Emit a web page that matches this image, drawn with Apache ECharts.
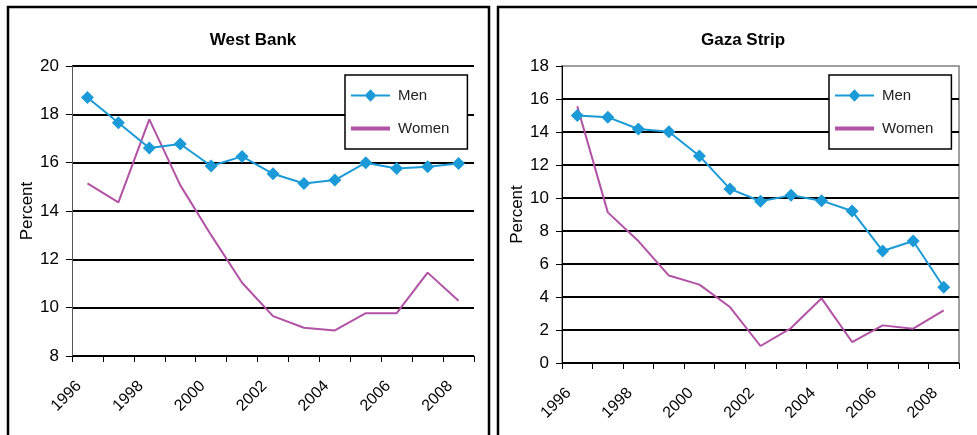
<!DOCTYPE html>
<html>
<head>
<meta charset="utf-8">
<script src="https://cdn.jsdelivr.net/npm/echarts@6/dist/echarts.min.js"></script>
<style>
html,body{margin:0;padding:0;background:#fff;}
#c{width:977px;height:435px;}
</style>
</head>
<body>
<div id="c"></div>
<script>
const years = ['1996','1997','1998','1999','2000','2001','2002','2003','2004','2005','2006','2007','2008'];
const westBankMen = [18.70,17.65,16.61,16.77,15.86,16.26,15.54,15.14,15.28,16.00,15.76,15.83,15.97];
const westBankWomen = [15.14,14.36,17.79,15.07,13.00,11.03,9.65,9.17,9.06,9.77,9.77,11.45,10.29];
const gazaMen = [15.00,14.90,14.18,14.02,12.55,10.55,9.80,10.16,9.84,9.21,6.79,7.39,4.59];
const gazaWomen = [15.56,9.13,7.39,5.30,4.75,3.39,1.03,2.12,3.92,1.27,2.28,2.08,3.19];
const titles = ['West Bank','Gaza Strip'];
const yAxisName = 'Percent';
const seriesNames = ['Men','Women'];

const FONT = '"Liberation Sans", Arial, sans-serif';
const BLUE = '#1a9ad6';
const PURPLE = '#b152a5';

const MEN_ICON = 'path://M0,5.5 L14.9,5.5 L20,0 L25.1,5.5 L40,5.5 L40,7.5 L25.1,7.5 L20,13 L14.9,7.5 L0,7.5 Z';
const WOMEN_ICON = 'path://M0,0 L40,0 L40,4 L0,4 Z';

const chart = echarts.init(document.getElementById('c'), null, {renderer:'canvas'});

function xAxis(gridIndex){
  return {
    type:'category', gridIndex, data: years, boundaryGap:true,
    axisLine:{show:true, lineStyle:{color:'#000', width:1}},
    axisTick:{show:true, interval:0, length:6, lineStyle:{color:'#000', width:1}},
    axisLabel:{interval:1, rotate:45, fontSize:16, fontFamily:FONT, color:'#000', margin:19, padding:[0,12,0,0]}
  };
}
function yAxis(gridIndex, min, max, splitColors, axisColor){
  return {
    type:'value', gridIndex, min, max, interval:2,
    name: yAxisName, nameLocation:'middle', nameGap:36, nameRotate:90,
    nameTextStyle:{fontSize:17, fontFamily:FONT, color:'#000'},
    axisLine:{show:true, lineStyle:{color:axisColor, width:1}},
    axisTick:{show:true, length:6, lineStyle:{color:'#000', width:1}},
    axisLabel:{fontSize:17, fontFamily:FONT, color:'#000', margin:13},
    splitLine:{show:true, lineStyle:{color:splitColors, width:2}}
  };
}
function legend(left){
  return {
    left, top:75, orient:'vertical',
    backgroundColor:'#fff', borderColor:'#000', borderWidth:1.5, borderRadius:0,
    padding:[13,18,13,6], itemGap:18, itemWidth:39, itemHeight:14,
    textStyle:{fontSize:15, fontFamily:FONT, color:'#222', padding:[0,0,0,3]},
    selectedMode:false,
    data:[
      {name:seriesNames[0], icon:MEN_ICON},
      {name:seriesNames[1], icon:WOMEN_ICON}
    ]
  };
}
function lineSeries(name, data, idx, isMen){
  return {
    name, type:'line', data, xAxisIndex:idx, yAxisIndex:idx,
    symbol: isMen ? 'diamond' : 'none', symbolSize: isMen ? 13 : 0,
    showSymbol: isMen,
    lineStyle:{color: isMen ? BLUE : PURPLE, width:2},
    itemStyle:{color: isMen ? BLUE : PURPLE},
    emphasis:{disabled:true}, animation:false, z: isMen ? 3 : 2
  };
}

const gazaSplit = ['#000','#000','#000','#000','#000','#000','#000','#000','#000','rgba(0,0,0,0)'];

chart.setOption({
  animation:false,
  backgroundColor:'#fff',
  title:[
    {text:titles[0], left:248, top:27, textAlign:'center', textStyle:{fontSize:17, fontWeight:'bold', fontFamily:FONT, color:'#000'}},
    {text:titles[1], left:738, top:27, textAlign:'center', textStyle:{fontSize:17, fontWeight:'bold', fontFamily:FONT, color:'#000'}}
  ],
  grid:[
    {left:72, right:503, top:66, bottom:79, show:false},
    {left:562, right:18, top:66, bottom:72, show:true, borderColor:'#808080', borderWidth:1.5, backgroundColor:'transparent'}
  ],
  xAxis:[xAxis(0), xAxis(1)],
  yAxis:[yAxis(0, 8, 20, '#000', '#555'), yAxis(1, 0, 18, gazaSplit, '#000')],
  legend:[legend(345), legend(829)],
  series:[
    lineSeries(seriesNames[1], westBankWomen, 0, false),
    lineSeries(seriesNames[0], westBankMen, 0, true),
    lineSeries(seriesNames[1], gazaWomen, 1, false),
    lineSeries(seriesNames[0], gazaMen, 1, true)
  ],
  graphic:[
    {type:'rect', shape:{x:8, y:7, width:481, height:440}, style:{fill:'none', stroke:'#000', lineWidth:2.5}, silent:true, z:100},
    {type:'rect', shape:{x:498, y:7, width:490, height:440}, style:{fill:'none', stroke:'#000', lineWidth:2.5}, silent:true, z:100}
  ]
});
</script>
</body>
</html>
